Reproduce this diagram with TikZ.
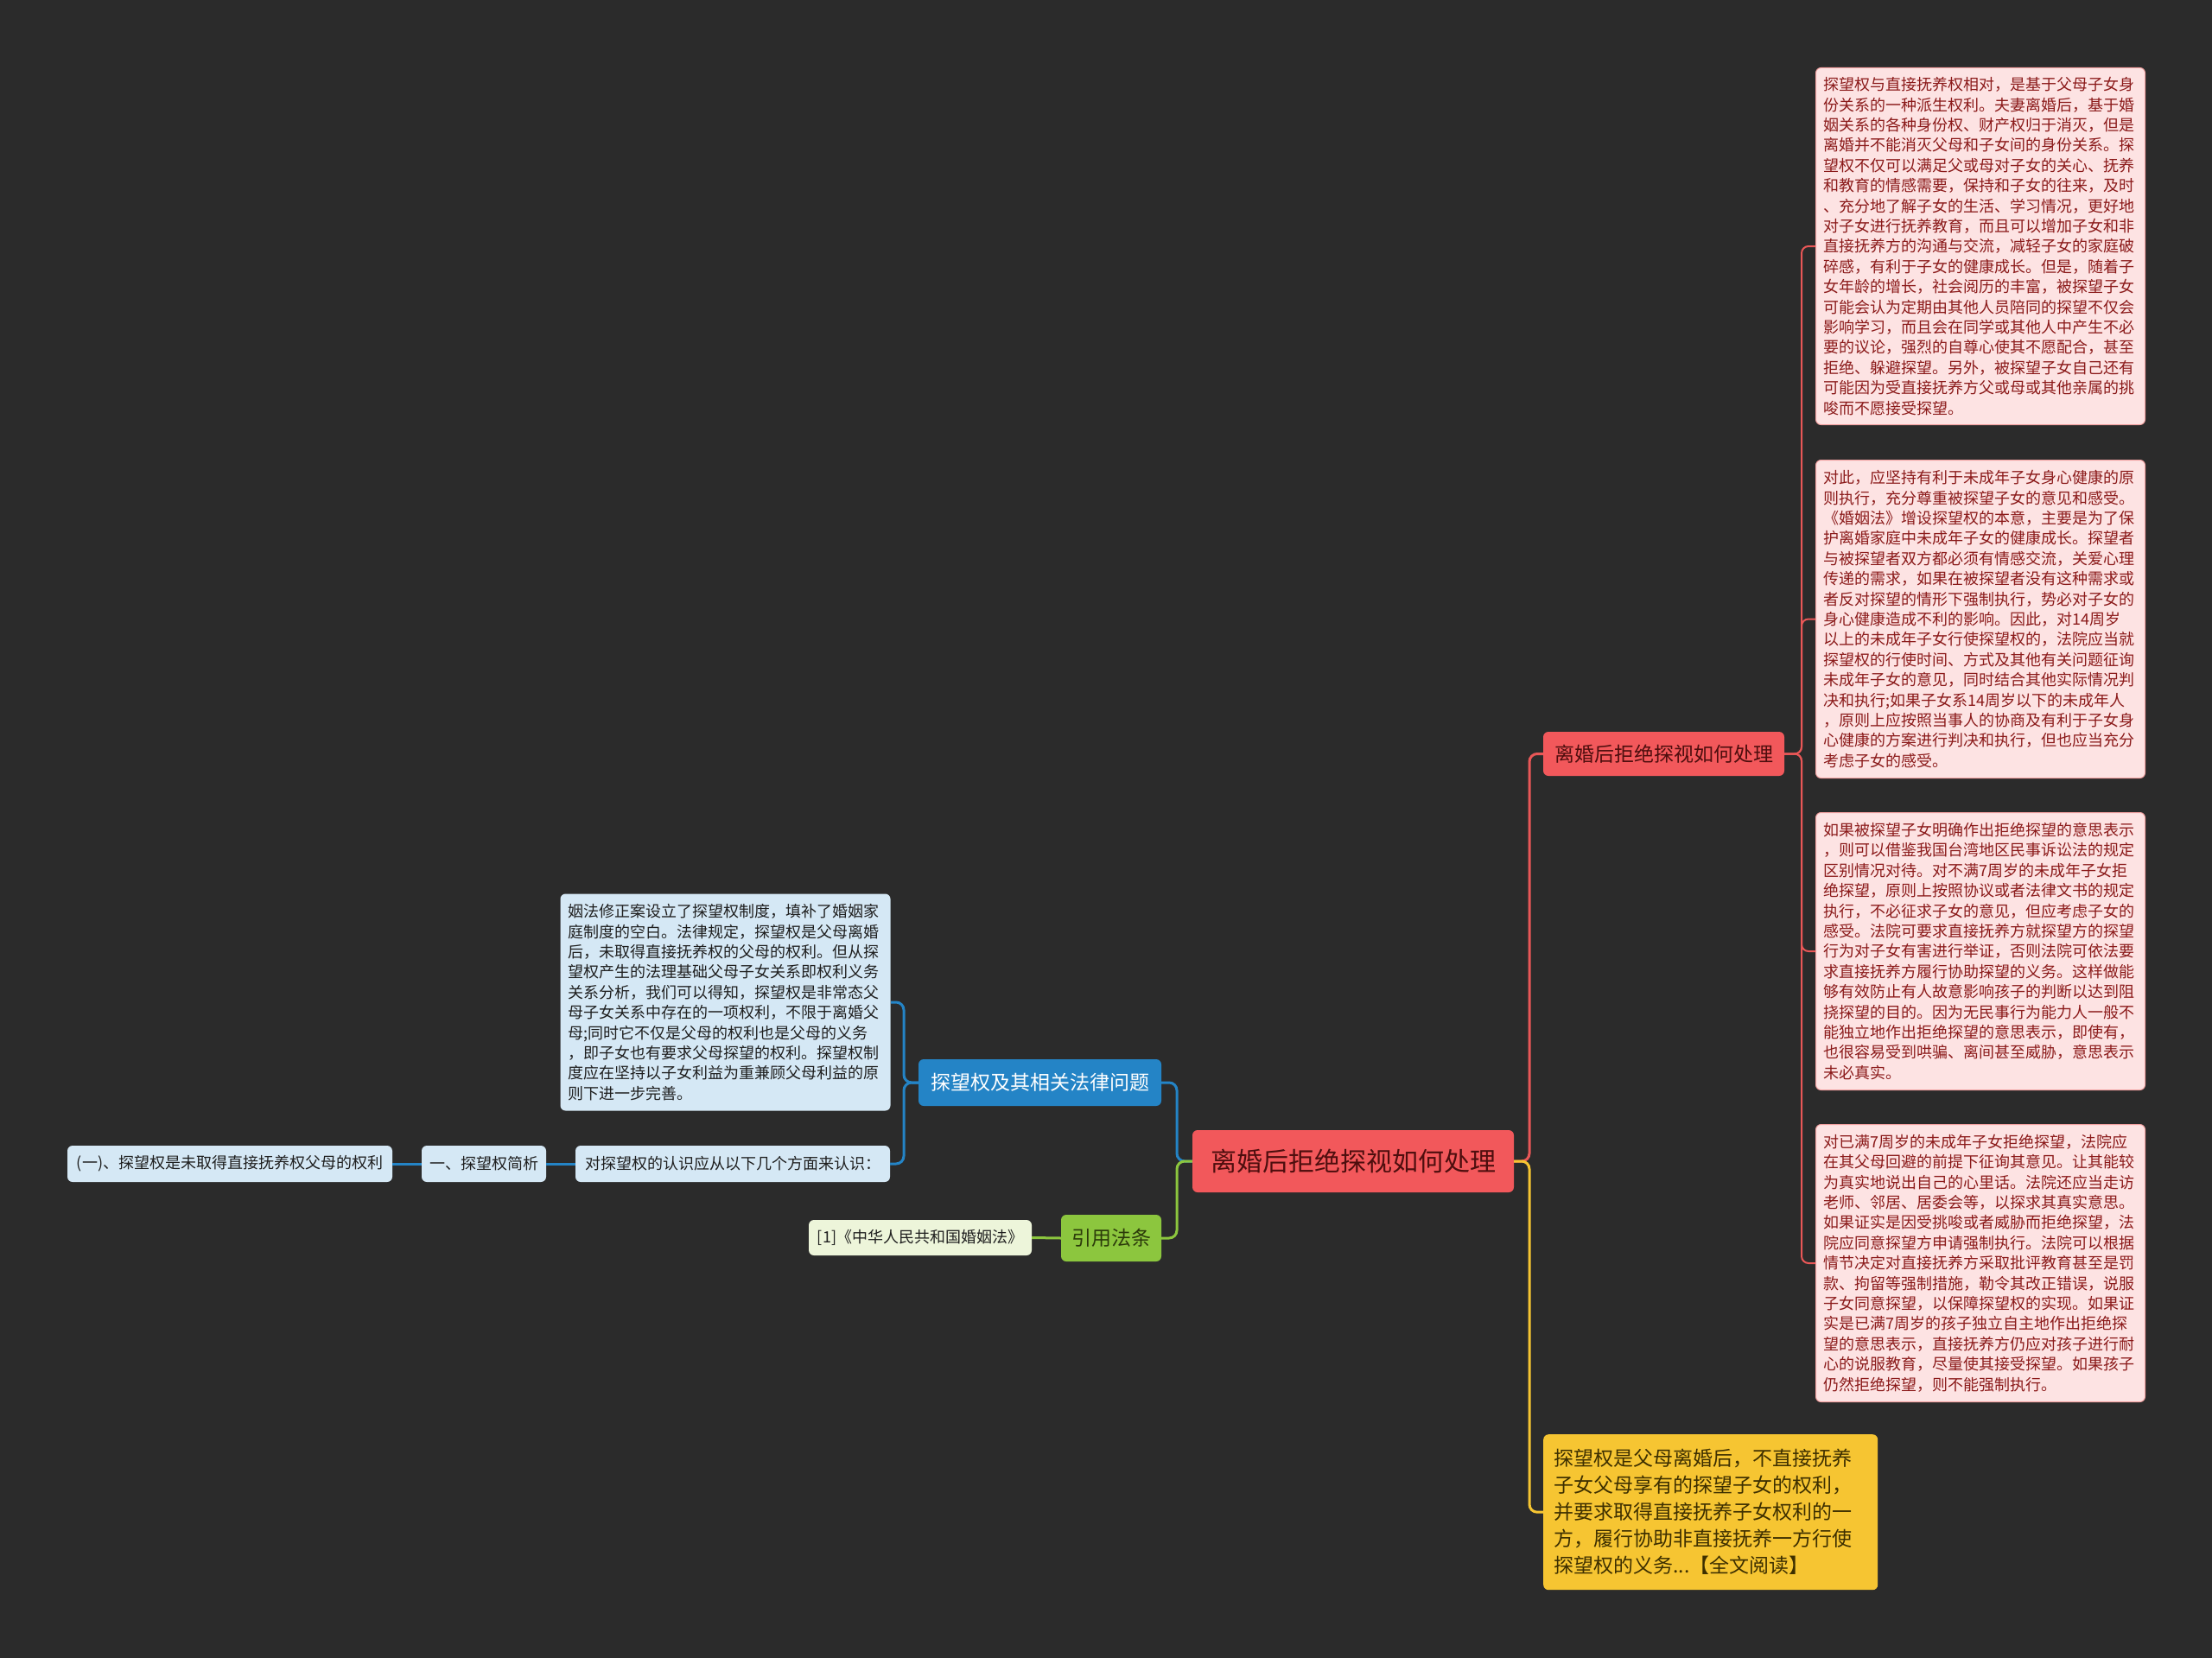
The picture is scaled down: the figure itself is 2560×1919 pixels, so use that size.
\documentclass[tikz,border=0pt]{standalone}
\usepackage{fontspec}
\setmainfont{Noto Sans CJK SC}
\definecolor{bg}{HTML}{2B2B2B}
\definecolor{rootfill}{HTML}{F2585B}
\definecolor{roottext}{HTML}{4E0E0E}
\definecolor{redline}{HTML}{E85757}
\definecolor{pinkfill}{HTML}{FDE3E3}
\definecolor{pinkdraw}{HTML}{F2A0A0}
\definecolor{pinktext}{HTML}{8B1A1A}
\definecolor{yelfill}{HTML}{F6C532}
\definecolor{yeltext}{HTML}{3D2F00}
\definecolor{bluefill}{HTML}{2484C6}
\definecolor{lbfill}{HTML}{D5E8F5}
\definecolor{lbtext}{HTML}{1F1F1F}
\definecolor{greenfill}{HTML}{8CC63E}
\definecolor{greentext}{HTML}{2B3A0A}
\definecolor{lgfill}{HTML}{EDF5DA}
\tikzset{
  rbox/.style={rounded corners=6pt, inner sep=0pt, align=center},
  rootnode/.style={rbox, fill=rootfill, text=roottext, font=\fontsize{30pt}{36pt}\selectfont},
  branchnode/.style={rbox, fill=rootfill, text=roottext, font=\fontsize{23pt}{28pt}\selectfont},
  pinkbox/.style={rounded corners=6pt, fill=pinkfill, draw=pinkdraw, line width=1pt, text=pinktext,
    anchor=north west, align=left, text width=363pt, inner xsep=9pt, inner ysep=8pt,
    font=\fontsize{18pt}{23.4pt}\selectfont},
  lbbox/.style={pinkbox, fill=lbfill, draw=none, text=lbtext},
  yelbox/.style={rounded corners=6pt, fill=yelfill, text=yeltext, anchor=north west, align=left,
    text width=363pt, inner xsep=12pt, inner ysep=8pt, font=\fontsize{23pt}{31pt}\selectfont},
  bluenode/.style={rbox, fill=bluefill, text=white, font=\fontsize{23pt}{28pt}\selectfont},
  greennode/.style={rbox, fill=greenfill, text=greentext, font=\fontsize{23pt}{28pt}\selectfont},
  smallnode/.style={rbox, fill=lbfill, text=lbtext, font=\fontsize{18pt}{22pt}\selectfont},
  lawnode/.style={rbox, fill=lgfill, text=lbtext, font=\fontsize{18pt}{22pt}\selectfont},
  conn/.style={line width=3pt, rounded corners=9pt},
  thinconn/.style={line width=2pt, rounded corners=8pt},
}
\begin{document}
\begin{tikzpicture}[x=1pt,y=-1pt]
\useasboundingbox (0,0) rectangle (2560,1919);
\fill[bg] (0,0) rectangle (2560,1919);

% nodes
\node[rootnode, minimum width=372pt, minimum height=72pt] (root) at (1566,1344) {离婚后拒绝探视如何处理};
\node[branchnode, minimum width=279pt, minimum height=51pt] (b1) at (1925.5,872.5) {离婚后拒绝探视如何处理};

\node[pinkbox, minimum height=413pt] (p1) at (2101,78) {探望权与直接抚养权相对，是基于父母子女身\\份关系的一种派生权利。夫妻离婚后，基于婚\\姻关系的各种身份权、财产权归于消灭，但是\\离婚并不能消灭父母和子女间的身份关系。探\\望权不仅可以满足父或母对子女的关心、抚养\\和教育的情感需要，保持和子女的往来，及时\\、充分地了解子女的生活、学习情况，更好地\\对子女进行抚养教育，而且可以增加子女和非\\直接抚养方的沟通与交流，减轻子女的家庭破\\碎感，有利于子女的健康成长。但是，随着子\\女年龄的增长，社会阅历的丰富，被探望子女\\可能会认为定期由其他人员陪同的探望不仅会\\影响学习，而且会在同学或其他人中产生不必\\要的议论，强烈的自尊心使其不愿配合，甚至\\拒绝、躲避探望。另外，被探望子女自己还有\\可能因为受直接抚养方父或母或其他亲属的挑\\唆而不愿接受探望。};

\node[pinkbox, minimum height=368pt] (p2) at (2101,532) {对此，应坚持有利于未成年子女身心健康的原\\则执行，充分尊重被探望子女的意见和感受。\\《婚姻法》增设探望权的本意，主要是为了保\\护离婚家庭中未成年子女的健康成长。探望者\\与被探望者双方都必须有情感交流，关爱心理\\传递的需求，如果在被探望者没有这种需求或\\者反对探望的情形下强制执行，势必对子女的\\身心健康造成不利的影响。因此，对14周岁\\以上的未成年子女行使探望权的，法院应当就\\探望权的行使时间、方式及其他有关问题征询\\未成年子女的意见，同时结合其他实际情况判\\决和执行;如果子女系14周岁以下的未成年人\\，原则上应按照当事人的协商及有利于子女身\\心健康的方案进行判决和执行，但也应当充分\\考虑子女的感受。};

\node[pinkbox, minimum height=321pt] (p3) at (2101,940) {如果被探望子女明确作出拒绝探望的意思表示\\，则可以借鉴我国台湾地区民事诉讼法的规定\\区别情况对待。对不满7周岁的未成年子女拒\\绝探望，原则上按照协议或者法律文书的规定\\执行，不必征求子女的意见，但应考虑子女的\\感受。法院可要求直接抚养方就探望方的探望\\行为对子女有害进行举证，否则法院可依法要\\求直接抚养方履行协助探望的义务。这样做能\\够有效防止有人故意影响孩子的判断以达到阻\\挠探望的目的。因为无民事行为能力人一般不\\能独立地作出拒绝探望的意思表示，即使有，\\也很容易受到哄骗、离间甚至威胁，意思表示\\未必真实。};

\node[pinkbox, minimum height=321pt] (p4) at (2101,1301) {对已满7周岁的未成年子女拒绝探望，法院应\\在其父母回避的前提下征询其意见。让其能较\\为真实地说出自己的心里话。法院还应当走访\\老师、邻居、居委会等，以探求其真实意思。\\如果证实是因受挑唆或者威胁而拒绝探望，法\\院应同意探望方申请强制执行。法院可以根据\\情节决定对直接抚养方采取批评教育甚至是罚\\款、拘留等强制措施，勒令其改正错误，说服\\子女同意探望，以保障探望权的实现。如果证\\实是已满7周岁的孩子独立自主地作出拒绝探\\望的意思表示，直接抚养方仍应对孩子进行耐\\心的说服教育，尽量使其接受探望。如果孩子\\仍然拒绝探望，则不能强制执行。};

\node[yelbox, minimum height=180pt] (y1) at (1786,1660) {探望权是父母离婚后，不直接抚养\\子女父母享有的探望子女的权利，\\并要求取得直接抚养子女权利的一\\方，履行协助非直接抚养一方行使\\探望权的义务...【全文阅读】};

\node[bluenode, minimum width=281pt, minimum height=54pt] (bn) at (1203.5,1253) {探望权及其相关法律问题};
\node[greennode, minimum width=116pt, minimum height=54pt] (gn) at (1286,1433) {引用法条};
\node[lawnode, minimum width=258pt, minimum height=41pt] (law) at (1065,1432.5) {[1]《中华人民共和国婚姻法》};

\node[lbbox, minimum height=251pt, text width=364pt] (bt) at (648,1034) {姻法修正案设立了探望权制度，填补了婚姻家\\庭制度的空白。法律规定，探望权是父母离婚\\后，未取得直接抚养权的父母的权利。但从探\\望权产生的法理基础父母子女关系即权利义务\\关系分析，我们可以得知，探望权是非常态父\\母子女关系中存在的一项权利，不限于离婚父\\母;同时它不仅是父母的权利也是父母的义务\\，即子女也有要求父母探望的权利。探望权制\\度应在坚持以子女利益为重兼顾父母利益的原\\则下进一步完善。};

\node[smallnode, minimum width=364pt, minimum height=42pt] (rc) at (848,1347) {对探望权的认识应从以下几个方面来认识：};
\node[smallnode, minimum width=144pt, minimum height=42pt] (an) at (560,1347) {一、探望权简析};
\node[smallnode, minimum width=376pt, minimum height=42pt] (fi) at (266,1347) {(一)、探望权是未取得直接抚养权父母的权利};

% junction coordinates
\coordinate (jc) at (1770,0);
\coordinate (jr) at (2085,0);
\coordinate (jl) at (1362,0);
\coordinate (jb) at (1046,0);

% connectors
\draw[conn, redline] (root.east) -- (jc |- root.east) |- (b1.west);
\draw[conn, yelfill] (root.east) -- (jc |- root.east) |- (y1.west);
\draw[thinconn, redline] (b1.east) -- (jr |- b1.east) |- (p1.west);
\draw[thinconn, redline] (b1.east) -- (jr |- b1.east) |- (p2.west);
\draw[thinconn, redline] (b1.east) -- (jr |- b1.east) |- (p3.west);
\draw[thinconn, redline] (b1.east) -- (jr |- b1.east) |- (p4.west);

\draw[conn, bluefill] (root.west) -- (jl |- root.west) |- (bn.east);
\draw[conn, greenfill] (root.west) -- (jl |- root.west) |- (gn.east);
\draw[conn, greenfill] (gn.west) -- (law.east);

\draw[conn, bluefill] (bn.west) -- (jb |- bn.west) |- (bt.east);
\draw[conn, bluefill] (bn.west) -- (jb |- bn.west) |- (rc.east);
\draw[conn, bluefill] (rc.west) -- (an.east);
\draw[conn, bluefill] (an.west) -- (fi.east);
\end{tikzpicture}
\end{document}
